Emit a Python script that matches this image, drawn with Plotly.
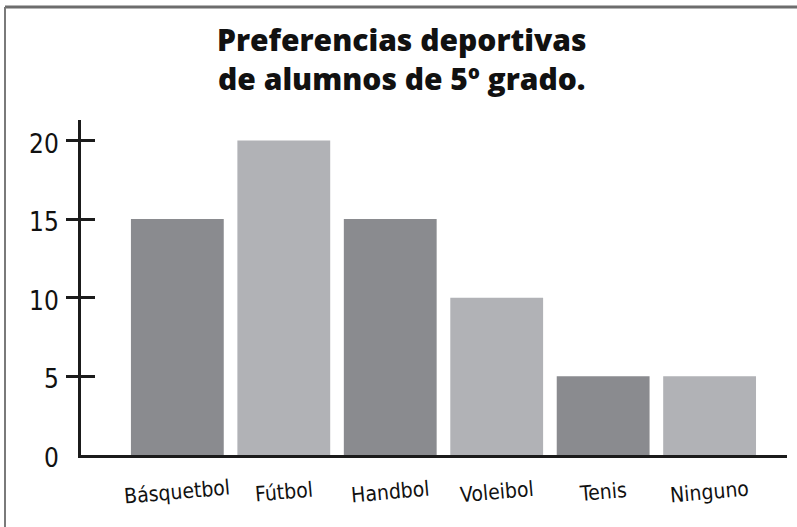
import plotly.graph_objects as go

categories = ["Básquetbol", "Fútbol", "Handbol", "Voleibol", "Tenis", "Ninguno"]
values = [15, 20, 15, 10, 5, 5]
bar_colors = ["#8a8b8f", "#b1b2b6", "#8a8b8f", "#b1b2b6", "#8a8b8f", "#b1b2b6"]
y_tick_vals = [0, 5, 10, 15, 20]
y_tick_text = ["0", "5", "10", "15", "20"]
tick_mark_vals = [5, 10, 15, 20]
title_lines = ["Preferencias deportivas", "de alumnos de 5º grado."]

W, H = 797, 527
ML, MR, MT, MB = 81, 10, 120, 72
AX = "#1b1b1b"
hand_font = "DejaVu Sans Condensed, sans-serif"
pw = W - ML - MR
ph = H - MT - MB

fig = go.Figure()
fig.add_trace(go.Bar(x=categories, y=values, marker=dict(color=bar_colors, line=dict(width=0)),
                     showlegend=False, hoverinfo="skip"))

fig.update_layout(
    width=W, height=H,
    margin=dict(l=ML, r=MR, t=MT, b=MB, pad=0),
    paper_bgcolor="white", plot_bgcolor="white",
    bargap=0.128,
    xaxis=dict(range=[-0.905, 5.727], showline=True, linecolor=AX, linewidth=3,
               showgrid=False, zeroline=False, ticks="", showticklabels=False),
    yaxis=dict(range=[0, 21.3], showline=True, linecolor=AX, linewidth=3,
               showgrid=False, zeroline=False, ticks="",
               tickmode="array", tickvals=y_tick_vals, ticktext=y_tick_text,
               tickfont=dict(family=hand_font, size=26, color="#111111"),
               ticklabelstandoff=14, ticklabelshift=3),
    yaxis2=dict(range=[0, 21.3], overlaying="y", side="left", showline=False,
                showgrid=False, zeroline=False, showticklabels=False,
                tickmode="array", tickvals=tick_mark_vals, ticks="outside",
                ticklen=14, tickwidth=3, tickcolor=AX),
    yaxis3=dict(range=[0, 21.3], overlaying="y", side="left", showline=False,
                showgrid=False, zeroline=False, showticklabels=False,
                tickmode="array", tickvals=tick_mark_vals, ticks="inside",
                ticklen=14, tickwidth=3, tickcolor=AX),
)

# invisible traces to activate the overlay axes
fig.add_trace(go.Scatter(x=[categories[0]], y=[0], yaxis="y2", mode="markers",
                         marker=dict(opacity=0), showlegend=False, hoverinfo="skip"))
fig.add_trace(go.Scatter(x=[categories[0]], y=[0], yaxis="y3", mode="markers",
                         marker=dict(opacity=0), showlegend=False, hoverinfo="skip"))

# title (two lines in one text block)
fig.add_annotation(text="<br>".join(title_lines), xref="paper", yref="paper",
                   x=(402 - ML) / pw, y=1 + (MT - 59) / ph,
                   xanchor="center", yanchor="middle", showarrow=False, align="center",
                   font=dict(family="Open Sans, sans-serif", size=30, color="#111111", weight=800))

# slanted category labels
for cat in categories:
    fig.add_annotation(text=cat, x=cat, xref="x", yref="paper", y=-(492 - (H - MB)) / ph,
                       xanchor="center", yanchor="middle", showarrow=False, textangle=-5,
                       font=dict(family=hand_font, size=21, color="#111111"))

# frame border (top and left edges), in paper coords
bx = (5 - ML) / pw
by = 1 + (MT - 7) / ph
fig.add_shape(type="line", xref="paper", yref="paper", x0=bx, x1=(W - ML + 5) / pw, y0=by, y1=by,
              line=dict(color="#6d6d6d", width=3))
fig.add_shape(type="line", xref="paper", yref="paper", x0=bx, x1=bx, y0=by, y1=-(MB + 5) / ph,
              line=dict(color="#7a7a7a", width=2))

fig.write_html("out.html", config={"displayModeBar": False},
               post_script="document.body.style.margin='0';document.body.style.overflow='hidden';")
